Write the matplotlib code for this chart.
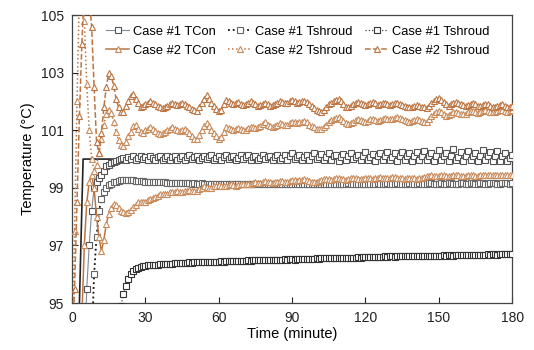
import numpy as np
import matplotlib
matplotlib.use("Agg")
import matplotlib.pyplot as plt

plt.rcParams['font.family'] = ['Liberation Sans', 'DejaVu Sans']

minutes = np.arange(0, 181)

# Case #1 TCon
c1_tcon = [92, 92, 92, 92, 92, 93.0, 95.5, 97.0, 98.2, 99.0,
           99.2, 99.35, 99.45, 99.6, 99.75, 99.8, 99.85, 99.9, 99.95, 99.97, 100.0,
           100.05, 99.98, 100.08, 100.0, 100.1, 99.98, 100.05, 100.12, 100.0, 100.08,
           99.97, 100.1, 100.02, 99.96, 100.08, 100.12, 99.98, 100.04, 100.1, 99.97,
           100.06, 100.12, 99.98, 100.05, 100.1, 99.96, 100.08, 100.13, 100.0, 100.06,
           100.11, 99.97, 100.05, 100.12, 99.99, 100.07, 100.14, 99.98, 100.05, 100.1,
           99.97, 100.08, 100.14, 100.0, 100.06, 100.12, 99.96, 100.05, 100.13, 99.99,
           100.08, 100.14, 99.98, 100.06, 100.12, 99.97, 100.04, 100.15, 100.0, 100.08,
           100.12, 99.96, 100.07, 100.14, 99.98, 100.05, 100.13, 99.97, 100.1, 100.2,
           100.0, 100.08, 100.15, 99.97, 100.06, 100.14, 99.98, 100.1, 100.22, 100.0,
           100.07, 100.16, 99.96, 100.08, 100.2, 99.98, 100.1, 100.15, 99.95, 100.08,
           100.18, 99.97, 100.1, 100.22, 100.0, 100.07, 100.15, 99.96, 100.1, 100.25,
           99.98, 100.08, 100.18, 99.95, 100.1, 100.22, 99.98, 100.12, 100.25, 99.97,
           100.08, 100.2, 99.95, 100.12, 100.26, 99.97, 100.1, 100.2, 99.94, 100.1,
           100.24, 99.96, 100.12, 100.28, 99.98, 100.1, 100.22, 99.94, 100.12, 100.3,
           99.97, 100.1, 100.22, 99.93, 100.12, 100.35, 99.98, 100.08, 100.25, 99.95,
           100.12, 100.28, 99.96, 100.1, 100.22, 99.92, 100.12, 100.3, 99.97, 100.1,
           100.25, 99.95, 100.12, 100.28, 99.94, 100.1, 100.2, 99.92, 100.05, 100.15]

# Case #1 Tshroud (upper, dotted)
c1_shroud_a = [92, 92, 92, 92, 92, 92, 92, 92, 93.5, 96.0, 97.3,
               98.2, 98.6, 98.85, 99.0, 99.1, 99.15, 99.2, 99.22, 99.25, 99.26,
               99.27, 99.28, 99.27, 99.27, 99.26, 99.25, 99.24, 99.24, 99.23, 99.22,
               99.22, 99.21, 99.22, 99.2, 99.2, 99.19, 99.2, 99.19, 99.18, 99.18,
               99.18, 99.17, 99.18, 99.17, 99.16, 99.17, 99.16, 99.16, 99.15, 99.16,
               99.15, 99.15, 99.16, 99.15, 99.14, 99.15, 99.15, 99.14, 99.14, 99.15,
               99.14, 99.15, 99.13, 99.14, 99.15, 99.14, 99.13, 99.14, 99.15, 99.14,
               99.13, 99.14, 99.13, 99.12, 99.14, 99.15, 99.13, 99.12, 99.13, 99.14,
               99.13, 99.12, 99.14, 99.15, 99.13, 99.12, 99.13, 99.14, 99.12, 99.13,
               99.14, 99.13, 99.12, 99.13, 99.15, 99.14, 99.12, 99.13, 99.14, 99.13,
               99.12, 99.14, 99.15, 99.13, 99.12, 99.14, 99.15, 99.14, 99.13, 99.12,
               99.13, 99.15, 99.16, 99.14, 99.13, 99.14, 99.15, 99.13, 99.12, 99.14,
               99.15, 99.14, 99.13, 99.15, 99.16, 99.14, 99.13, 99.15, 99.16, 99.15,
               99.13, 99.14, 99.16, 99.15, 99.14, 99.13, 99.15, 99.16, 99.14, 99.13,
               99.15, 99.16, 99.15, 99.13, 99.14, 99.16, 99.17, 99.15, 99.14, 99.15,
               99.16, 99.15, 99.14, 99.16, 99.17, 99.15, 99.14, 99.15, 99.17, 99.16,
               99.14, 99.15, 99.17, 99.16, 99.15, 99.14, 99.16, 99.17, 99.15, 99.14,
               99.16, 99.17, 99.16, 99.15, 99.14, 99.16, 99.17, 99.16, 99.15, 99.16]

# Case #1 Tshroud (lower)
c1_shroud_b = [92] * 20 + [
    94.9, 95.3, 95.6, 95.85, 96.0, 96.1, 96.17, 96.22, 96.26, 96.28, 96.3,
    96.31, 96.32, 96.33, 96.33, 96.34, 96.35, 96.35, 96.36, 96.36, 96.37,
    96.37, 96.38, 96.38, 96.39, 96.39, 96.4, 96.4, 96.41, 96.4, 96.41,
    96.42, 96.41, 96.42, 96.43, 96.42, 96.43, 96.44, 96.43, 96.44, 96.44,
    96.45, 96.44, 96.45, 96.46, 96.45, 96.46, 96.46, 96.47, 96.46, 96.47,
    96.47, 96.48, 96.47, 96.48, 96.49, 96.48, 96.49, 96.5, 96.49, 96.5,
    96.5, 96.49, 96.5, 96.51, 96.5, 96.51, 96.52, 96.51, 96.52, 96.52,
    96.51, 96.52, 96.53, 96.52, 96.53, 96.53, 96.54, 96.53, 96.54, 96.55,
    96.54, 96.55, 96.55, 96.56, 96.55, 96.56, 96.57, 96.56, 96.57, 96.57,
    96.56, 96.57, 96.58, 96.57, 96.58, 96.58, 96.59, 96.58, 96.59, 96.6,
    96.59, 96.6, 96.6, 96.61, 96.6, 96.61, 96.61, 96.62, 96.61, 96.62,
    96.62, 96.61, 96.62, 96.63, 96.62, 96.63, 96.63, 96.62, 96.63, 96.64,
    96.63, 96.64, 96.64, 96.63, 96.64, 96.65, 96.64, 96.65, 96.65, 96.64,
    96.65, 96.66, 96.65, 96.66, 96.66, 96.65, 96.66, 96.67, 96.66, 96.67,
    96.67, 96.66, 96.67, 96.68, 96.67, 96.68, 96.68, 96.67, 96.68, 96.69,
    96.68, 96.69, 96.69, 96.68, 96.69, 96.7, 96.69, 96.7, 96.7, 96.69]

# Case #2 TCon
c2_tcon = [92, 92, 92, 92, 94.5, 97.0, 98.5, 99.2, 99.45, 99.0, 98.0,
           97.3, 96.8, 97.2, 97.75, 98.1, 98.3, 98.45, 98.42, 98.3, 98.2,
           98.15, 98.12, 98.15, 98.22, 98.32, 98.42, 98.5, 98.52, 98.5, 98.52,
           98.58, 98.62, 98.65, 98.7, 98.72, 98.78, 98.8, 98.78, 98.8, 98.84,
           98.86, 98.85, 98.88, 98.86, 98.85, 98.88, 98.9, 98.92, 98.9, 98.88,
           98.9, 98.95, 99.0, 99.05, 99.02, 98.98, 99.0, 99.05, 99.08, 99.1,
           99.08, 99.05, 99.08, 99.1, 99.12, 99.1, 99.08, 99.1, 99.12, 99.15,
           99.14, 99.12, 99.15, 99.18, 99.2, 99.18, 99.16, 99.2, 99.24, 99.22,
           99.2, 99.18, 99.2, 99.22, 99.25, 99.23, 99.2, 99.22, 99.25, 99.28,
           99.26, 99.24, 99.26, 99.28, 99.3, 99.27, 99.25, 99.22, 99.2, 99.22,
           99.24, 99.27, 99.3, 99.32, 99.3, 99.28, 99.3, 99.33, 99.35, 99.32,
           99.3, 99.28, 99.3, 99.33, 99.35, 99.34, 99.32, 99.3, 99.32, 99.35,
           99.36, 99.34, 99.32, 99.33, 99.35, 99.37, 99.36, 99.34, 99.33, 99.35,
           99.37, 99.38, 99.36, 99.34, 99.33, 99.32, 99.34, 99.36, 99.35, 99.33,
           99.32, 99.34, 99.36, 99.38, 99.4, 99.42, 99.43, 99.41, 99.4, 99.42,
           99.44, 99.43, 99.41, 99.4, 99.42, 99.44, 99.45, 99.43, 99.42, 99.41,
           99.42, 99.44, 99.45, 99.44, 99.42, 99.41, 99.43, 99.45, 99.46, 99.44,
           99.43, 99.44, 99.46, 99.45, 99.44, 99.43, 99.45, 99.46, 99.45, 99.44]

# Case #2 Tshroud (dotted, middle band)
c2_shroud_a = [93.0, 97.5, 102.0, 105.8, 106.2, 104.8, 102.6, 101.0, 100.0, 99.6, 99.8,
               100.2, 100.7, 101.2, 101.55, 101.7, 101.6, 101.3, 100.95, 100.65, 100.5,
               100.45, 100.6, 100.8, 100.95, 101.15, 101.2, 101.05, 100.95, 100.9, 101.0,
               101.05, 101.1, 101.05, 100.98, 100.92, 100.88, 100.9, 100.95, 101.0, 101.05,
               101.1, 101.05, 101.0, 100.98, 101.02, 101.05, 100.98, 100.9, 100.8, 100.7,
               100.68, 100.85, 101.0, 101.15, 101.25, 101.15, 101.02, 100.92, 100.8, 100.7,
               100.75, 100.95, 101.1, 101.08, 101.05, 101.02, 101.05, 101.08, 101.04, 101.0,
               101.02, 101.08, 101.12, 101.1, 101.08, 101.1, 101.15, 101.22, 101.28, 101.2,
               101.15, 101.12, 101.15, 101.2, 101.25, 101.22, 101.18, 101.2, 101.25, 101.3,
               101.28, 101.25, 101.27, 101.3, 101.33, 101.28, 101.2, 101.15, 101.1, 101.06,
               101.04, 101.04, 101.1, 101.2, 101.3, 101.35, 101.38, 101.42, 101.47, 101.4,
               101.32, 101.25, 101.22, 101.25, 101.3, 101.35, 101.38, 101.35, 101.32, 101.3,
               101.33, 101.38, 101.4, 101.36, 101.32, 101.35, 101.4, 101.42, 101.4, 101.38,
               101.4, 101.43, 101.45, 101.42, 101.38, 101.35, 101.32, 101.3, 101.33, 101.37,
               101.4, 101.36, 101.32, 101.28, 101.3, 101.38, 101.48, 101.56, 101.62, 101.68,
               101.62, 101.55, 101.5, 101.52, 101.58, 101.62, 101.65, 101.6, 101.56, 101.55,
               101.58, 101.62, 101.66, 101.68, 101.63, 101.6, 101.62, 101.66, 101.7, 101.68,
               101.65, 101.62, 101.64, 101.68, 101.72, 101.7, 101.66, 101.63, 101.66, 101.7]

# Case #2 Tshroud (dashed, upper band)
c2_shroud_b = [93.0, 95.5, 98.5, 101.5, 104.0, 106.0, 106.5, 105.6, 104.6, 102.5, 100.6,
               100.2, 100.9, 101.8, 102.5, 103.0, 102.9, 102.55, 102.1, 101.8, 101.65,
               101.65, 101.85, 102.0, 102.2, 102.25, 102.1, 101.95, 101.8, 101.85, 101.9,
               101.95, 102.0, 101.95, 101.9, 101.85, 101.8, 101.78, 101.8, 101.85, 101.9,
               101.95, 101.92, 101.88, 101.9, 101.95, 101.92, 101.85, 101.8, 101.75, 101.7,
               101.68, 101.8, 101.95, 102.1, 102.22, 102.1, 101.95, 101.85, 101.75, 101.66,
               101.7, 101.9, 102.05, 102.0, 101.95, 101.92, 101.95, 101.98, 101.92, 101.88,
               101.9, 101.95, 102.0, 101.96, 101.9, 101.85, 101.88, 101.92, 101.95, 101.9,
               101.85, 101.88, 101.92, 101.95, 102.0, 101.97, 101.93, 101.95, 102.0, 102.05,
               102.0, 101.95, 101.97, 102.0, 102.03, 101.97, 101.9, 101.85, 101.78, 101.72,
               101.68, 101.65, 101.7, 101.8, 101.9, 101.95, 102.0, 102.05, 102.08, 102.0,
               101.9, 101.82, 101.8, 101.85, 101.9, 101.95, 101.98, 101.95, 101.9, 101.88,
               101.9, 101.95, 101.97, 101.93, 101.88, 101.92, 101.95, 101.93, 101.9, 101.88,
               101.9, 101.93, 101.95, 101.92, 101.88, 101.85, 101.82, 101.8, 101.82, 101.85,
               101.88, 101.85, 101.82, 101.8, 101.78, 101.85, 101.95, 102.02, 102.08, 102.12,
               102.05, 101.98, 101.9, 101.85, 101.9, 101.95, 101.98, 101.95, 101.9, 101.88,
               101.85, 101.88, 101.92, 101.95, 101.9, 101.85, 101.83, 101.88, 101.92, 101.9,
               101.85, 101.82, 101.8, 101.83, 101.88, 101.9, 101.85, 101.8, 101.82, 101.85]

# reference (set-point) line
ref_t = [3.0, 4.5, 180]
ref_v = [95, 100, 100]

labels = ["Case #1 TCon", "Case #1 Tshroud", "Case #1 Tshroud",
          "Case #2 TCon", "Case #2 Tshroud", "Case #2 Tshroud"]
xticks = [0, 30, 60, 90, 120, 150, 180]
yticks = [95, 97, 99, 101, 103, 105]

brown = '#BD7440'
brown_light = '#C98A5A'

fig = plt.figure(figsize=(5.34, 3.5), dpi=100)
ax = fig.add_axes([0.135, 0.134, 0.824, 0.823])

def x_of(v):
    return minutes[:len(v)]

ms = 4.2
h_c1a, = ax.plot(x_of(c1_tcon), c1_tcon, '-', color='#7F8A95', lw=0.8, marker='s', ms=ms,
                 mfc='white', mec='#555555', mew=0.8, label=labels[0], zorder=3)
ax.plot(ref_t, ref_v, '-', color='#222222', lw=1.2, zorder=2)
h_c1b, = ax.plot(x_of(c1_shroud_a), c1_shroud_a, ':', color='#111111', lw=1.3, marker='s', ms=ms,
                 mfc='white', mec='#666666', mew=0.8, label=labels[1], zorder=3)
h_c1c, = ax.plot(x_of(c1_shroud_b), c1_shroud_b, ':', color='#444444', lw=0.9, marker='s', ms=ms,
                 mfc='white', mec='#333333', mew=0.8, label=labels[2], zorder=3)
h_c2a, = ax.plot(x_of(c2_tcon), c2_tcon, '-', color=brown, lw=1.1, marker='^', ms=ms,
                 mfc='white', mec=brown_light, mew=0.8, label=labels[3], zorder=3)
h_c2b, = ax.plot(x_of(c2_shroud_a), c2_shroud_a, ':', color=brown, lw=1.1, marker='^', ms=ms,
                 mfc='white', mec=brown_light, mew=0.8, label=labels[4], zorder=3)
h_c2c, = ax.plot(x_of(c2_shroud_b), c2_shroud_b, '--', color=brown, lw=1.1, marker='^', ms=ms,
                 mfc='white', mec=brown, mew=0.8, label=labels[5], zorder=3)

ax.set_xlim(0, 180)
ax.set_ylim(95, 105)
ax.set_xticks(xticks)
ax.set_yticks(yticks)
ax.tick_params(direction='in', length=4, labelsize=10, colors='#222222', pad=6)
for s in ax.spines.values():
    s.set_color('#444444')
    s.set_linewidth(0.9)
ax.set_xlabel("Time (minute)", fontsize=10.5, labelpad=1)
ax.set_ylabel("Temperature (\u00b0C)", fontsize=10.5, labelpad=4)

handles = [h_c1a, h_c2a, h_c1b, h_c2b, h_c1c, h_c2c]
leg = ax.legend(handles, [h.get_label() for h in handles], ncol=3, loc='upper left',
                bbox_to_anchor=(0.06, 0.99), frameon=False, fontsize=9.3,
                handlelength=1.8, handletextpad=0.25, columnspacing=1.0,
                labelspacing=0.55, borderaxespad=0.2)

fig.savefig("out.png", dpi=100)
